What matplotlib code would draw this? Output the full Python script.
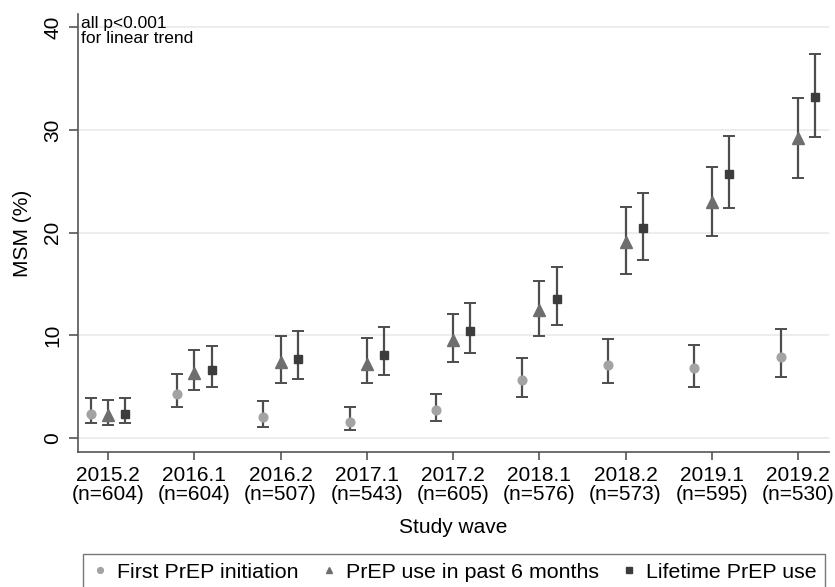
import numpy as np
import matplotlib
matplotlib.use("Agg")
import matplotlib.pyplot as plt

plt.rcParams['font.family'] = ['Liberation Sans', 'DejaVu Sans']

waves = ["2015.2", "2016.1", "2016.2", "2017.1", "2017.2", "2018.1", "2018.2", "2019.1", "2019.2"]
ns = [604, 604, 507, 543, 605, 576, 573, 595, 530]

# first PrEP initiation
init_est = [2.3, 4.3, 2.0, 1.5, 2.7, 5.6, 7.1, 6.75, 7.9]
init_lo = [1.4, 2.95, 1.07, 0.7, 1.6, 3.95, 5.3, 4.97, 5.9]
init_hi = [3.9, 6.2, 3.6, 2.95, 4.3, 7.75, 9.6, 9.0, 10.6]

# PrEP use in past 6 months
p6_est = [2.2, 6.3, 7.35, 7.2, 9.5, 12.4, 19.1, 23.0, 29.2]
p6_lo = [1.27, 4.6, 5.3, 5.3, 7.35, 9.87, 16.0, 19.7, 25.35]
p6_hi = [3.7, 8.5, 9.93, 9.7, 12.07, 15.3, 22.45, 26.4, 33.1]

# lifetime PrEP use
life_est = [2.3, 6.6, 7.65, 8.05, 10.35, 13.5, 20.4, 25.7, 33.2]
life_lo = [1.4, 4.9, 5.7, 6.1, 8.25, 11.0, 17.3, 22.4, 29.3]
life_hi = [3.9, 8.9, 10.35, 10.75, 13.1, 16.6, 23.9, 29.4, 37.4]

fig = plt.figure(figsize=(8.35, 5.87), dpi=100)
ax = fig.add_axes([0.0934, 0.230, 0.8994, 0.746])

x = np.arange(1, len(waves) + 1)
ecol = "#4d4d4d"
fs = 15

series = [
    (init_est, init_lo, init_hi, -0.2, "o", "#a3a3a3", 6.3, "First PrEP initiation"),
    (p6_est, p6_lo, p6_hi, 0.0, "^", "#6e6e6e", 8, "PrEP use in past 6 months"),
    (life_est, life_lo, life_hi, 0.2, "s", "#3c3c3c", 6, "Lifetime PrEP use"),
]

handles = []
for est, lo, hi, off, mk, col, ms, lab in series:
    est = np.array(est)
    yerr = [est - np.array(lo), np.array(hi) - est]
    ax.errorbar(x + off, est, yerr=yerr, fmt="none", ecolor=ecol,
                elinewidth=1.6, capsize=4, capthick=1.4, zorder=2)
    ax.plot(x + off, est, linestyle="none", marker=mk, color=col,
            markersize=ms, zorder=3)
    h, = ax.plot([], [], linestyle="none", marker=mk, color=col,
                 markersize=4.2, label=lab)
    handles.append(h)

ax.set_xlim(0.65, 9.36)
ax.set_ylim(-1.4, 41.3)
ax.set_yticks([0, 10, 20, 30, 40])
ax.set_xticks(x)
ax.set_xticklabels([f"{w}\n(n={n})" for w, n in zip(waves, ns)], fontsize=fs,
                   linespacing=1.0)
for t in ax.get_yticklabels():
    t.set_rotation(90)
    t.set_va("center")
ax.tick_params(axis="y", labelsize=fs, length=6.5, pad=5, color="#555555", width=1.2)
ax.tick_params(axis="x", length=6, pad=4, color="#555555", width=1.2)
ax.yaxis.grid(True, color="#eaeaea", linewidth=1.2)
ax.set_axisbelow(True)
for s in ["top", "right"]:
    ax.spines[s].set_visible(False)
for s in ["left", "bottom"]:
    ax.spines[s].set_color("#555555")
    ax.spines[s].set_linewidth(1.2)

ax.set_ylabel("MSM (%)", fontsize=fs, labelpad=8)
ax.set_xlabel("Study wave", fontsize=fs, labelpad=10)

ax.text(0.004, 0.995, "all p<0.001\nfor linear trend", transform=ax.transAxes,
        fontsize=12.5, va="top", ha="left", linespacing=1.0)

leg = fig.legend(handles=handles, loc="upper center",
                 bbox_to_anchor=(0.544, 1 - 554 / 587),
                 ncol=3, fontsize=15.4, frameon=True, fancybox=False,
                 handletextpad=0.4, handlelength=0.8, columnspacing=1.0,
                 borderpad=0.4, borderaxespad=0)
leg.get_frame().set_edgecolor("#555555")
leg.get_frame().set_linewidth(1.0)

fig.savefig("out.png", dpi=100)
